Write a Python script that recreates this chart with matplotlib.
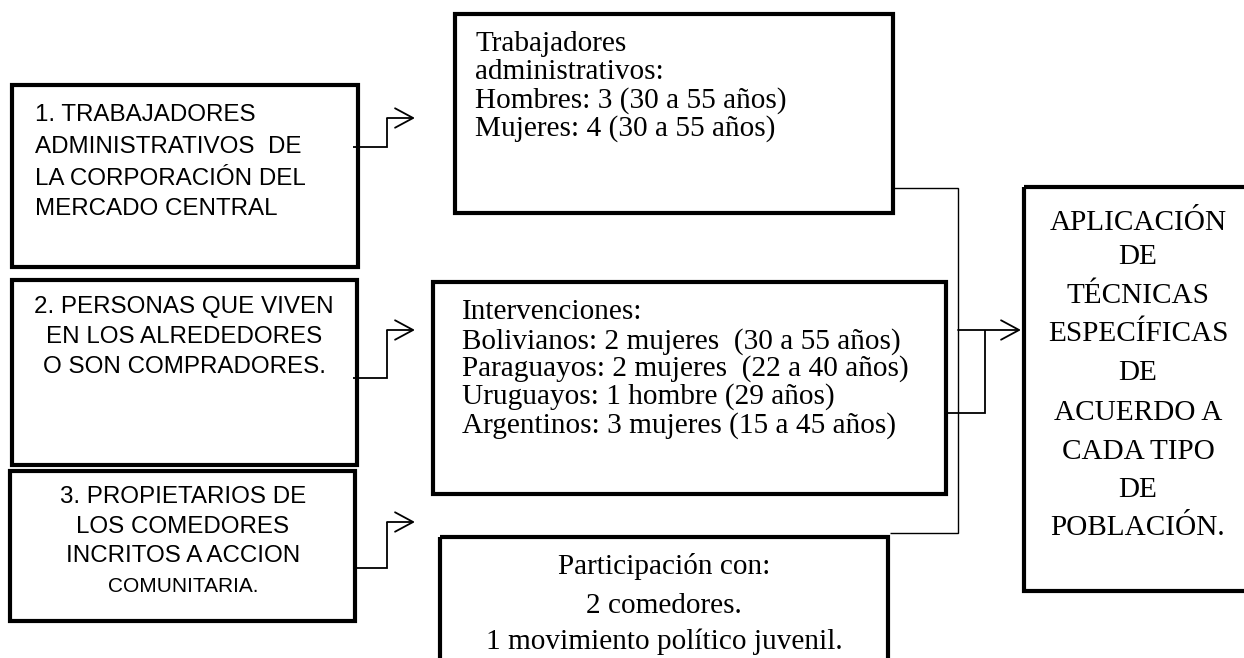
import matplotlib
matplotlib.use("Agg")
import matplotlib.pyplot as plt
from matplotlib.patches import Rectangle, FancyArrowPatch

# ---- text content ----
box1_lines = ["1. TRABAJADORES", "ADMINISTRATIVOS  DE", "LA CORPORACIÓN DEL", "MERCADO CENTRAL"]
box2_lines = ["2. PERSONAS QUE VIVEN", "EN LOS ALREDEDORES", "O SON COMPRADORES."]
box3_lines = ["3. PROPIETARIOS DE", "LOS COMEDORES", "INCRITOS A ACCION", "COMUNITARIA."]
top_lines = ["Trabajadores", "administrativos:", "Hombres: 3 (30 a 55 años)", "Mujeres: 4 (30 a 55 años)"]
mid_lines = ["Intervenciones:", "Bolivianos: 2 mujeres  (30 a 55 años)",
             "Paraguayos: 2 mujeres  (22 a 40 años)", "Uruguayos: 1 hombre (29 años)",
             "Argentinos: 3 mujeres (15 a 45 años)"]
bot_lines = ["Participación con:", "2 comedores.", "1 movimiento político juvenil."]
right_lines = ["APLICACIÓN", "DE", "TÉCNICAS", "ESPECÍFICAS", "DE", "ACUERDO A",
               "CADA TIPO", "DE", "POBLACIÓN."]

W, H = 1244, 658
fig = plt.figure(figsize=(W / 100, H / 100), dpi=100)
ax = fig.add_axes([0, 0, 1, 1])
ax.set_xlim(0, W)
ax.set_ylim(H, 0)
ax.axis("off")

SANS = "Liberation Sans"
SERIF = "Liberation Serif"
SERIF_SIZE = 21.1
SANS_SIZE = 17.4
BOX_LW = 3.0
CON_LW = 1.3


def box(x0, y0, x1, y1):
    ax.add_patch(Rectangle((x0, y0), x1 - x0, y1 - y0, fill=False, ec="black",
                           lw=BOX_LW, joinstyle="miter", clip_on=True))


def lines_at(lines, x, ys, family, size, ha="left", sizes=None):
    for i, (t, y) in enumerate(zip(lines, ys)):
        s = sizes[i] if sizes else size
        ax.text(x, y, t, family=family, fontsize=s, ha=ha, va="center", color="black")


def poly(xs, ys, lw=CON_LW):
    ax.plot(xs, ys, color="black", lw=lw, solid_joinstyle="miter", solid_capstyle="butt")


def arrow(x0, y0, x1, y1, lw=CON_LW):
    ax.add_patch(FancyArrowPatch((x0, y0), (x1, y1),
                                 arrowstyle="->,head_length=1.3,head_width=0.7",
                                 mutation_scale=10, lw=lw, color="black",
                                 shrinkA=0, shrinkB=0, joinstyle="miter"))


# ---- left boxes ----
box(12, 85, 358, 267)
lines_at(box1_lines, 35, [115, 147, 179, 209], SANS, SANS_SIZE)

box(12, 280, 357, 465)
lines_at(box2_lines, 184, [307, 337, 367], SANS, SANS_SIZE, ha="center")

box(10, 471, 355, 621)
lines_at(box3_lines, 183, [497, 527, 556, 587], SANS, SANS_SIZE, ha="center",
         sizes=[SANS_SIZE, SANS_SIZE, SANS_SIZE, 15.0])

# ---- left connectors ----
for yb, ya in [(147, 118), (378, 330), (568, 522)]:
    poly([353, 387, 387], [yb, yb, ya])
    arrow(387, ya, 415, ya)

# ---- middle boxes ----
box(455, 14, 893, 213)
lines_at(top_lines, 475, [44, 72, 101, 129], SERIF, SERIF_SIZE)

box(433, 282, 946, 494)
lines_at(mid_lines, 462, [312, 342, 369, 397, 426], SERIF, SERIF_SIZE)

box(440, 537, 888, 700)
lines_at(bot_lines, 664, [567, 606, 642], SERIF, SERIF_SIZE, ha="center")

# ---- right connectors ----
poly([893, 958, 958, 890], [188, 188, 533, 533], lw=1.0)
poly([946, 985, 985], [413, 413, 330])
arrow(958, 330, 1021, 330)

# ---- right box ----
box(1024, 187, 1262, 591)
lines_at(right_lines, 1138, [223, 257, 296, 334, 373, 413, 452, 490, 528], SERIF, SERIF_SIZE, ha="center")

fig.savefig("out.png", dpi=100, facecolor="white")
